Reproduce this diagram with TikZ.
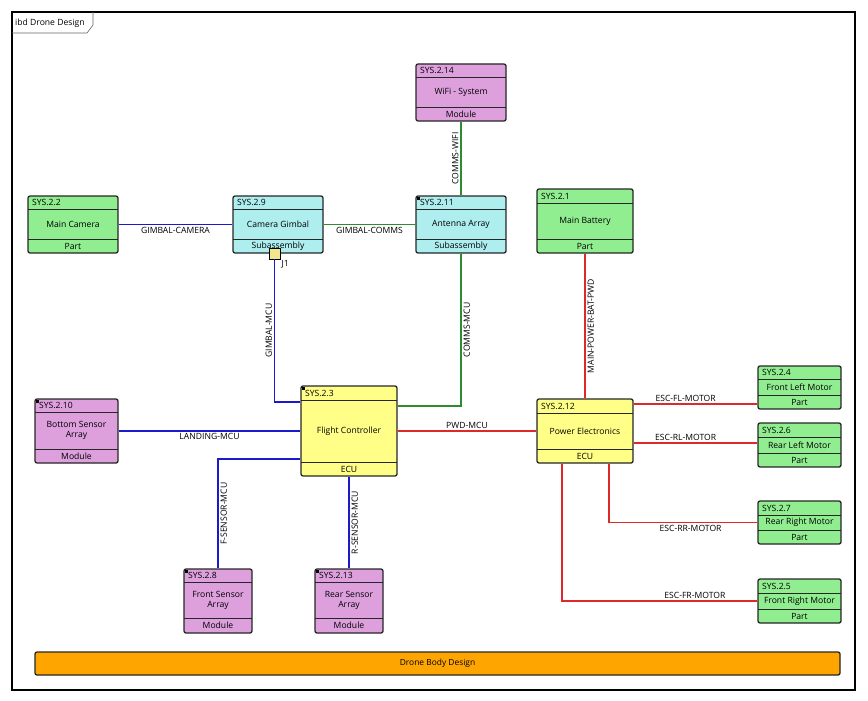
\documentclass[tikz,border=0pt]{standalone}
\usepackage{fontspec}
\setmainfont{Open Sans}
\definecolor{partgreen}{HTML}{90EE90}
\definecolor{subcyan}{HTML}{AFEEEE}
\definecolor{modviolet}{HTML}{DDA0DD}
\definecolor{ecuyellow}{HTML}{FFFF88}
\definecolor{bodyorange}{HTML}{FFA500}
\definecolor{portkhaki}{HTML}{F0E68C}
\definecolor{wireblue}{HTML}{1A1ACC}
\definecolor{wiregreen}{HTML}{2E8B2E}
\definecolor{wirered}{HTML}{E02828}
\tikzset{
	block/.style={draw=black!85, line width=1.3pt, rounded corners=2pt, inner sep=0pt},
	wire/.style={line width=1.3pt},
	lbl/.style={font=\fontsize{8.6}{10}\selectfont, inner sep=2pt},
}
\begin{document}
\begin{tikzpicture}[x=1pt, y=-1pt]
			\useasboundingbox (0,0) rectangle (868,701);
			% frame
			\draw[line width=1.2pt] (12,12) rectangle (855,690);
			\draw[line width=0.6pt, black!60] (12,33) -- (87,33) -- (93,25) -- (93,12);
			\node[lbl, anchor=west] (frametitle) at (13,23) {ibd Drone Design};
			% blocks
			\foreach \n/\xa/\ya/\xb/\yb/\hy/\fy/\fc/\mk/\id/\title/\kind in {
				cam/28/196/118/253/209/239/partgreen/0/SYS.2.2/Main Camera/Part,
				gim/233/196/323/253/209/239/subcyan/0/SYS.2.9/Camera Gimbal/Subassembly,
				wifi/416/64/506/121/77/107/modviolet/0/SYS.2.14/WiFi - System/Module,
				ant/416/196/506/253/209/239/subcyan/1/SYS.2.11/Antenna Array/Subassembly,
				bat/537/189/633/253/203/239/partgreen/0/SYS.2.1/Main Battery/Part,
				fc/301/386/397/476/400/462/ecuyellow/1/SYS.2.3/Flight Controller/ECU,
				pe/537/399/633/463/413/449/ecuyellow/0/SYS.2.12/Power Electronics/ECU,
				bsa/35/399/118/463/412/449/modviolet/1/SYS.2.10/{Bottom Sensor\\Array}/Module,
				fsa/184/569/252/633/582/618/modviolet/1/SYS.2.8/{Front Sensor\\Array}/Module,
				rsa/315/569/383/633/582/618/modviolet/1/SYS.2.13/{Rear Sensor\\Array}/Module,
				flm/758/366/841/409/379/395/partgreen/0/SYS.2.4/Front Left Motor/Part,
				rlm/758/423/841/467/437/453/partgreen/0/SYS.2.6/Rear Left Motor/Part,
				rrm/758/501/841/544/515/530/partgreen/0/SYS.2.7/Rear Right Motor/Part,
				frm/758/579/841/623/593/609/partgreen/0/SYS.2.5/Front Right Motor/Part}{
				\pgfmathsetmacro\w{\xb-\xa}
				\pgfmathsetmacro\h{\yb-\ya}
				\node[block, fill=\fc, minimum width=\w pt, minimum height=\h pt] (\n) at ({(\xa+\xb)/2},{(\ya+\yb)/2}) {};
				\draw[line width=0.8pt, black!85] (\xa,\hy) -- (\xb,\hy);
				\draw[line width=0.8pt, black!85] (\xa,\fy) -- (\xb,\fy);
				\node[lbl, anchor=west] (\n-id) at (\xa+2,{(\ya+\hy)/2}) {\id};
				\node[lbl, align=center] (\n-title) at ({(\xa+\xb)/2},{(\hy+\fy)/2}) {\title};
				\node[lbl] (\n-kind) at ({(\xa+\xb)/2},{(\fy+\yb)/2}) {\kind};
				\ifnum\mk=1 \fill (\xa+0.6,\ya+0.6) rectangle (\xa+4,\ya+4); \fi
			}
			\node[block, fill=bodyorange, minimum width=805pt, minimum height=23pt, font=\fontsize{8.4}{10}\selectfont] (body) at (437.5,663.5) {Drone Body Design};
			% port
			\node[draw, fill=portkhaki, minimum size=11pt, inner sep=0pt, line width=0.6pt] (j1) at (274.5,253.5) {};
			\node[lbl, anchor=north west, inner sep=1pt] (j1-lbl) at (j1.south east) {J1};
			% routing levels
			\coordinate (yGM) at (0,402);
			\coordinate (yCM) at (0,406);
			\coordinate (yFS) at (0,459);
			\coordinate (yFL) at (0,404);
			\coordinate (yRL) at (0,443);
			\coordinate (xRR) at (609,0);
			\coordinate (xFR) at (562,0);
			% blue
			\draw[wire, wireblue] (cam.east) -- node[lbl, black, below] (l-gc) {GIMBAL-CAMERA} (gim.west);
			\draw[wire, wireblue] (j1.south) -- node[lbl, black, above, rotate=90] (l-gm) {GIMBAL-MCU} (j1.south |- yGM) -- (fc.west |- yGM);
			\draw[wire, wireblue] (bsa.east) -- node[lbl, black, below] (l-lm) {LANDING-MCU} (fc.west |- bsa.east);
			\draw[wire, wireblue] (fc.west |- yFS) -- (fsa.north |- yFS) -- node[lbl, black, below, rotate=90] (l-fs) {F-SENSOR-MCU} (fsa.north);
			\draw[wire, wireblue] (fc.south -| rsa.north) -- node[lbl, black, below, rotate=90] (l-rs) {R-SENSOR-MCU} (rsa.north);
			% green
			\draw[wire, wiregreen] (gim.east) -- node[lbl, black, below] (l-gco) {GIMBAL-COMMS} (ant.west);
			\draw[wire, wiregreen] (wifi.south) -- node[lbl, black, above, rotate=90] (l-cw) {COMMS-WIFI} (ant.north);
			\draw[wire, wiregreen] (ant.south) -- node[lbl, black, below, rotate=90] (l-cm) {COMMS-MCU} (ant.south |- yCM) -- (fc.east |- yCM);
			% red
			\draw[wire, wirered] (fc.east |- pe.west) -- node[lbl, black, above] (l-pm) {PWD-MCU} (pe.west);
			\draw[wire, wirered] (bat.south) -- node[lbl, black, below, rotate=90] (l-mp) {MAIN-POWER-BAT-PWD} (pe.north);
			\draw[wire, wirered] (pe.east |- yFL) -- node[lbl, black, above, pos=0.42] (l-fl) {ESC-FL-MOTOR} (flm.west |- yFL);
			\draw[wire, wirered] (pe.east |- yRL) -- node[lbl, black, above, pos=0.42] (l-rl) {ESC-RL-MOTOR} (rlm.west |- yRL);
			\draw[wire, wirered] (pe.south -| xRR) -- (xRR |- rrm.west) -- node[lbl, black, below, pos=0.55] (l-rr) {ESC-RR-MOTOR} (rrm.west);
			\draw[wire, wirered] (pe.south -| xFR) -- (xFR |- frm.west) -- node[lbl, black, above, pos=0.68] (l-fr) {ESC-FR-MOTOR} (frm.west);
		\end{tikzpicture}
\end{document}
